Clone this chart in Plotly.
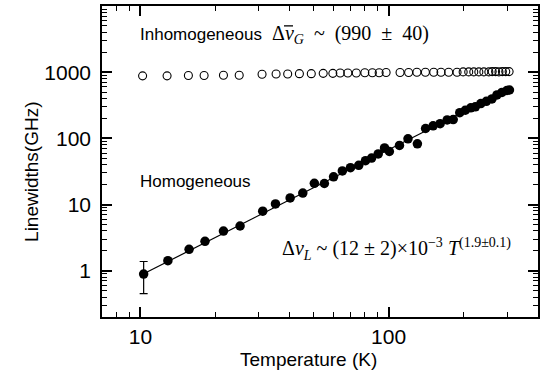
import plotly.graph_objects as go

# Homogeneous linewidths (filled circles)
hom_T = [10.3, 12.9, 15.7, 18.2, 21.6, 25.2, 31.1, 35.0, 40.1, 45.1, 50.2, 55.1, 60.0, 65.1,
         70.2, 75.8, 80.7, 85.4, 90.8, 96.3, 100.7, 110.6, 119.7, 130.6, 140.9, 151.1, 161.3,
         172.2, 182.1, 193.5, 203.7, 214.4, 223.6, 235.3, 247.7, 260.8, 273.3, 286.2, 299.9, 306.9]
hom_W = [0.89, 1.42, 2.11, 2.78, 3.98, 4.74, 7.94, 10.2, 12.6, 14.9, 20.9, 20.8, 26.2, 32.2,
         36.0, 39.1, 46.1, 50.3, 58.3, 71.7, 63.3, 78.1, 98.3, 82.8, 141, 155, 167,
         190, 192, 244, 266, 290, 300, 336, 363, 395, 454, 494, 530, 538]
# error bar on the first point only
err_plus = [0.49] + [0] * (len(hom_T) - 1)
err_minus = [0.44] + [0] * (len(hom_T) - 1)

# Inhomogeneous linewidths (open circles)
inh_T = [10.2, 12.8, 15.6, 18.05, 21.6, 25.0, 30.9, 35.2, 39.2, 43.7, 48.8, 54.5, 59.6, 63.8,
         68.5, 74.1, 80.2, 86.0, 91.6, 97.7, 111.2, 120.4, 130.0, 140.7, 152.0, 162.6, 174.6,
         188.7, 199.7, 210.3, 220.4, 231.0, 242.0, 253.5, 261.5, 269.8, 278.4, 287.4, 296.5, 305.9]
inh_W = [880, 880, 890, 890, 900, 900, 930, 940, 940, 950, 950, 960, 960, 970,
         970, 970, 980, 980, 980, 990, 990, 990, 1000, 1000, 1000, 1000, 1000,
         1000, 1010, 1010, 1010, 1010, 1010, 1010, 1020, 1020, 1010, 1020, 1020, 1020]

# power-law fit  dv_L = A * T^n
fit_A = 0.0107
fit_n = 1.9
fit_T = [hom_T[0] * (hom_T[-1] / hom_T[0]) ** (i / 60) for i in range(61)]
fit_W = [fit_A * t ** fit_n for t in fit_T]

x_ticks = [10, 100]
y_ticks = [1, 10, 100, 1000]
x_minor = [8, 9, 20, 30, 40, 50, 60, 70, 80, 90, 200, 300]
y_minor = [m * 10 ** k for k in range(-1, 4) for m in range(2, 10)]

fig = go.Figure()
fig.add_trace(go.Scatter(x=fit_T, y=fit_W, mode="lines",
                         line=dict(color="black", width=1.2), hoverinfo="skip"))
fig.add_trace(go.Scatter(x=inh_T, y=inh_W, mode="markers",
                         marker=dict(symbol="circle-open", size=8, color="black",
                                     line=dict(width=1.1, color="black"))))
fig.add_trace(go.Scatter(x=hom_T, y=hom_W, mode="markers",
                         marker=dict(symbol="circle", size=9.5, color="black"),
                         error_y=dict(type="data", symmetric=False, array=err_plus,
                                      arrayminus=err_minus, color="black",
                                      thickness=1.2, width=4)))

tickfont = dict(family="Liberation Sans, Arial", size=21, color="black")
fig.update_xaxes(type="log", range=[0.845, 2.602], showline=True, linecolor="black",
                 linewidth=1.5, mirror="ticks", ticks="inside", ticklen=10, tickwidth=1.5,
                 tickcolor="black", tickvals=x_ticks,
                 tickfont=tickfont, showgrid=False,
                 minor=dict(ticks="inside", ticklen=5, tickwidth=1.2, tickcolor="black",
                            tickvals=x_minor))
fig.update_yaxes(type="log", range=[-0.699, 4.0], showline=True, linecolor="black",
                 linewidth=1.5, mirror="ticks", ticks="inside", ticklen=10, tickwidth=1.5,
                 tickcolor="black", tickvals=y_ticks,
                 tickfont=tickfont, ticklabelstandoff=5, showgrid=False,
                 minor=dict(ticks="inside", ticklen=5, tickwidth=1.2, tickcolor="black",
                            tickvals=y_minor))

sans = dict(family="Liberation Sans, Arial", size=17, color="black")
title_font = dict(family="Liberation Sans, Arial", size=19, color="black")
serif = dict(family="Liberation Serif, Times New Roman", size=20, color="black")
sp = "\u00a0"
fig.update_layout(
    width=546, height=384, margin=dict(l=102, r=8, t=4, b=67),
    paper_bgcolor="white", plot_bgcolor="white", showlegend=False,
    annotations=[
        dict(text="Temperature (K)", xref="paper", yref="paper", x=(308 - 102) / 436,
             y=(317 - 360) / 313, xanchor="center", yanchor="middle", showarrow=False,
             font=title_font),
        dict(text="Linewidths(GHz)", xref="paper", yref="paper", x=(32 - 102) / 436,
             y=(317 - 171) / 313, xanchor="center", yanchor="middle", showarrow=False,
             textangle=-90, font=title_font),
        dict(text="Inhomogeneous", xref="paper", yref="paper", x=0.083, y=0.907,
             xanchor="left", yanchor="middle", showarrow=False, font=sans),
        dict(text="Homogeneous", xref="paper", yref="paper", x=0.083, y=0.4345,
             xanchor="left", yanchor="middle", showarrow=False, font=sans),
        dict(text="Δ<i>ν</i><sub><i>G</i></sub>" + sp * 2 + "~" + sp * 2 + "(990" + sp * 2 + "±" + sp * 2 + "40)",
             xref="paper", yref="paper",
             x=0.385, y=0.907, xanchor="left", yanchor="middle", showarrow=False, font=serif),
        dict(text="Δ<i>ν</i><sub><i>L</i></sub>" + sp + "~" + sp + "(12" + sp + "±" + sp + "2)×10<sup>−3</sup>" + sp + "<i>T</i><sup>(1.9±0.1)</sup>",
             xref="paper", yref="paper", x=0.408, y=0.22, xanchor="left", yanchor="middle",
             showarrow=False, font=serif),
    ],
    shapes=[
        # macron (bar) over the nu of the inhomogeneous formula
        dict(type="line", xref="paper", yref="paper",
             x0=(284 - 102) / 436, x1=(293 - 102) / 436,
             y0=(317 - 24) / 313, y1=(317 - 24) / 313,
             line=dict(color="black", width=1.3)),
    ],
)

fig.write_html("out.html")
